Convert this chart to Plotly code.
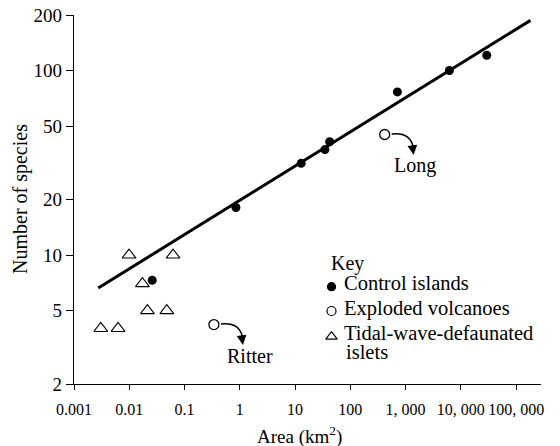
import numpy as np
import plotly.graph_objects as go

# ---- data ----
control_area = [0.026, 0.85, 12.9, 34.7, 42.2, 710, 6200, 29400]
control_species = [7.3, 18.1, 31.4, 37.3, 41.1, 76.6, 100, 121]

volcano_names = ["Ritter", "Long"]
volcano_area = [0.34, 418]
volcano_species = [4.2, 45]

tidal_area = [0.0099, 0.062, 0.0173, 0.0213, 0.0478, 0.00305, 0.00627]
tidal_species = [10, 10, 7, 5, 5, 4, 4]

fit_area = [0.00275, 182000]
fit_species = [6.63, 187]

x_tickvals = [0.001, 0.01, 0.1, 1, 10, 100, 1000, 10000, 100000]
x_ticktext = ["0.001", "0.01", "0.1", "1", "10", "100", "1, 000", "10, 000", "100, 000"]
y_tickvals = [2, 5, 10, 20, 50, 100, 200]

key_title = "Key"
key_labels = ["Control islands", "Exploded volcanoes", "Tidal-wave-defaunated", "islets"]

# ---- geometry ----
W, H = 560, 446
ML, MR, MT, MB = 74, 19, 15, 62
PW, PH = W - ML - MR, H - MT - MB
X_RANGE = [-3, 5.45]
Y_RANGE = [np.log10(2), np.log10(200)]
FONT = "Liberation Serif"


def data_to_px(area, species):
    px = ML + (np.log10(area) - X_RANGE[0]) / (X_RANGE[1] - X_RANGE[0]) * PW
    py = MT + (Y_RANGE[1] - np.log10(species)) / (Y_RANGE[1] - Y_RANGE[0]) * PH
    return px, py


def px_to_paper(px, py):
    return (px - ML) / PW, (H - MB - py) / PH


fig = go.Figure()

# regression line
fig.add_trace(go.Scatter(x=fit_area, y=fit_species, mode="lines",
                         line=dict(color="black", width=3), hoverinfo="skip"))
# control islands
fig.add_trace(go.Scatter(x=control_area, y=control_species, mode="markers",
                         marker=dict(symbol="circle", size=9, color="black")))
# exploded volcanoes
fig.add_trace(go.Scatter(x=volcano_area, y=volcano_species, mode="markers",
                         marker=dict(symbol="circle-open", size=10, color="black",
                                     line=dict(width=1.3, color="black"))))
# tidal-wave-defaunated islets
fig.add_trace(go.Scatter(x=tidal_area, y=tidal_species, mode="markers",
                         marker=dict(symbol="triangle-up-open", size=12, color="black",
                                     line=dict(width=1.1, color="black"))))

shapes = []
annotations = []

# curved arrows and names for the volcanoes
for name, a, s in zip(volcano_names, volcano_area, volcano_species):
    cx, cy = data_to_px(a, s)
    p0 = px_to_paper(cx + 7, cy - 0.5)
    p1 = px_to_paper(cx + 25, cy - 2.5)
    p2 = px_to_paper(cx + 28.5, cy + 12)
    shapes.append(dict(type="path", xref="paper", yref="paper",
                       path=f"M {p0[0]},{p0[1]} Q {p1[0]},{p1[1]} {p2[0]},{p2[1]}",
                       line=dict(color="black", width=1.5)))
    tip = px_to_paper(cx + 29, cy + 20.5)
    annotations.append(dict(x=tip[0], y=tip[1], xref="paper", yref="paper",
                            text="", showarrow=True, ax=-1.5, ay=-11,
                            arrowhead=2, arrowsize=1.3, arrowwidth=1.5,
                            arrowcolor="black"))
    shift = 30 if name == "Long" else 36
    annotations.append(dict(x=np.log10(a), y=np.log10(s), xref="x", yref="y",
                            text=name, showarrow=False, xshift=shift, yshift=-31,
                            font=dict(family=FONT, size=20, color="black")))

# key
key_marker_y = [286.7, 311, 336.7]
key_text_y = [283.3, 308, 333, 351.7]
key_symbols = ["circle", "circle-open", "triangle-up-open"]
key_sizes = [8, 9, 10]
for sym, size, ky in zip(key_symbols, key_sizes, key_marker_y):
    kx, kyp = px_to_paper(331.5, ky)
    fig.add_trace(go.Scatter(x=[kx], y=[kyp], xaxis="x2", yaxis="y2", mode="markers",
                             marker=dict(symbol=sym, size=size, color="black",
                                         line=dict(width=1.2, color="black"))))

kx, ky = px_to_paper(329, 263)
annotations.append(dict(x=kx, y=ky, xref="paper", yref="paper", text=key_title,
                        showarrow=False, xanchor="left", yanchor="middle",
                        font=dict(family=FONT, size=20, color="black")))
for i, (lab, ty) in enumerate(zip(key_labels, key_text_y)):
    tx, typ = px_to_paper(342 if i < 3 else 344, ty)
    annotations.append(dict(x=tx, y=typ, xref="paper", yref="paper", text=lab,
                            showarrow=False, xanchor="left", yanchor="middle",
                            font=dict(family=FONT, size=20.5, color="black")))

# axis titles
tx, ty = px_to_paper(299, 435)
annotations.append(dict(x=tx, y=ty, xref="paper", yref="paper",
                        text="Area (km<sup>2</sup>)", showarrow=False,
                        xanchor="center", yanchor="middle",
                        font=dict(family=FONT, size=19, color="black")))
tx, ty = px_to_paper(20, 199)
annotations.append(dict(x=tx, y=ty, xref="paper", yref="paper",
                        text="Number of species", showarrow=False, textangle=-90,
                        xanchor="center", yanchor="middle",
                        font=dict(family=FONT, size=20, color="black")))

fig.update_layout(
    width=W, height=H,
    margin=dict(l=ML, r=MR, t=MT, b=MB, pad=0),
    paper_bgcolor="white", plot_bgcolor="white",
    showlegend=False,
    font=dict(family=FONT, color="black"),
    xaxis=dict(type="log", range=X_RANGE, tickvals=x_tickvals, ticktext=x_ticktext,
               ticks="outside", ticklen=5, tickwidth=1.2, tickcolor="black",
               showline=True, linecolor="black", linewidth=1.3,
               showgrid=False, zeroline=False, ticklabelstandoff=6,
               automargin=False, tickangle=0,
               tickfont=dict(family=FONT, size=16, color="black")),
    yaxis=dict(type="log", range=Y_RANGE, tickvals=y_tickvals,
               ticktext=[str(v) for v in y_tickvals],
               ticks="outside", ticklen=7, tickwidth=1.2, tickcolor="black",
               showline=True, linecolor="black", linewidth=1.3,
               showgrid=False, zeroline=False, automargin=False,
               tickfont=dict(family=FONT, size=19, color="black")),
    xaxis2=dict(overlaying="x", range=[0, 1], visible=False, anchor="y2"),
    yaxis2=dict(overlaying="y", range=[0, 1], visible=False, anchor="x2"),
    shapes=shapes,
    annotations=annotations,
)

fig.write_html("out.html")
